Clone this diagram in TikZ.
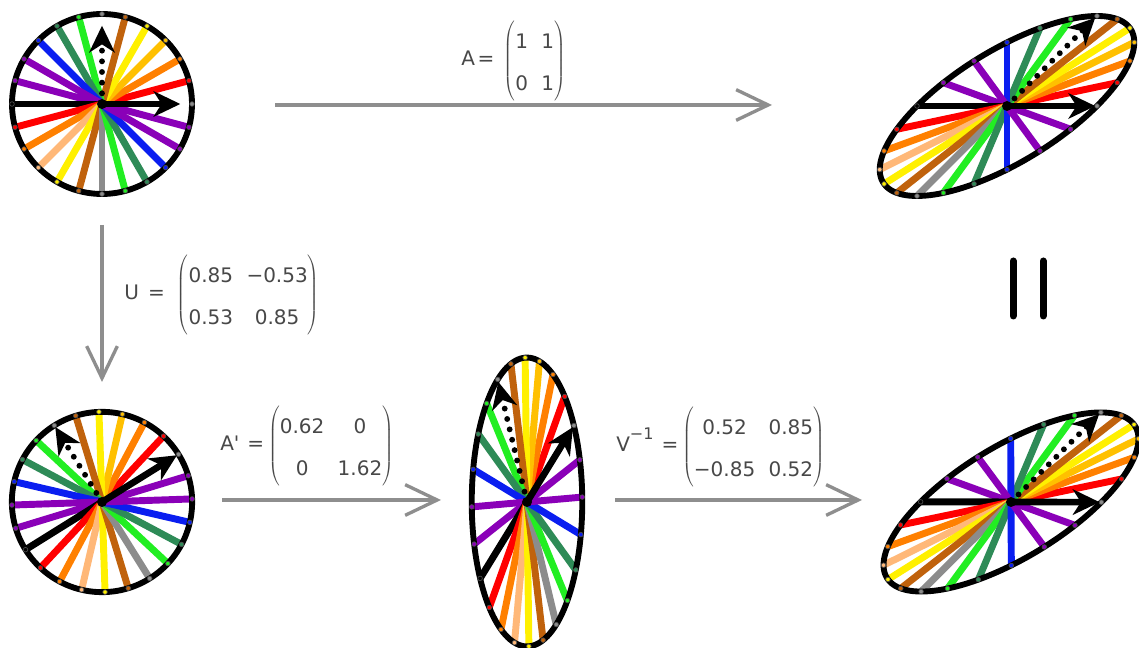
\documentclass[tikz,border=0pt]{standalone}
\usepackage{fontspec}
\newfontfamily\lab{DejaVu Sans}
\usetikzlibrary{arrows.meta}
\definecolor{cred}{HTML}{FF0000}
\definecolor{corange}{HTML}{FF8000}
\definecolor{cgold}{HTML}{FFC000}
\definecolor{cyellow}{HTML}{FFF000}
\definecolor{cbrown}{HTML}{C0620C}
\definecolor{cgreen}{HTML}{22EE22}
\definecolor{cdgreen}{HTML}{2E8B57}
\definecolor{cblue}{HTML}{0A1EF0}
\definecolor{cpurple}{HTML}{8A00B8}
\definecolor{cpeach}{HTML}{FFB878}
\definecolor{cgray}{HTML}{8C8C8C}
\definecolor{conncol}{HTML}{8E8E8E}
\definecolor{txt}{HTML}{484848}
\newcommand\mtx[1]{$\left(\renewcommand\arraystretch{1.75}\begin{tabular}{@{}c@{\hspace{10pt}}c@{}}#1\end{tabular}\right)$}
\newcommand\spokelist{15/cred,30/corange,45/cgold,60/cyellow,75/cbrown,105/cgreen,120/cdgreen,135/cblue,150/cpurple,165/cpurple,180/black,195/cred,210/corange,225/cpeach,240/cyellow,255/cbrown,270/cgray,285/cgreen,300/cdgreen,315/cblue,330/cpurple,345/cpurple}
\newcommand\dotlist{0/cgray,90/cgray,15/cred,30/corange,45/cgold,60/cyellow,75/cbrown,105/cgreen,120/cdgreen,135/cblue,150/cpurple,165/cpurple,180/black,195/cred,210/corange,225/cpeach,240/cyellow,255/cbrown,270/cgray,285/cgreen,300/cdgreen,315/cblue,330/cpurple,345/cpurple}
\newcommand\svdfig[7]{%
\begin{scope}[shift={(#1)}]
 \foreach \a/\c in \spokelist {%
   \draw[spoke,draw=\c] (0,0) -- ({#2*((#3)*cos(\a)+(#4)*sin(\a))},{#2*((#5)*cos(\a)+(#6)*sin(\a))});
 }
 \draw[rim] plot[domain=0:360,samples=145] ({#2*((#3)*cos(\x)+(#4)*sin(\x))},{#2*((#5)*cos(\x)+(#6)*sin(\x))}) -- cycle;
 \foreach \a/\c in \dotlist {%
   \fill[\c, draw=black!70, line width=0.5pt] ({#2*((#3)*cos(\a)+(#4)*sin(\a))},{#2*((#5)*cos(\a)+(#6)*sin(\a))}) circle[radius=2.3];
 }
 \draw[vec] (0,0) -- ({#7*#2*(#3)},{#7*#2*(#5)});
 \draw[dvec] (0,0) -- ({#7*#2*(#4)},{#7*#2*(#6)});
 \fill (0,0) circle[radius=5];
\end{scope}}
\tikzset{
  spoke/.style={line width=5.2pt},
  rim/.style={draw=black, line width=4.4pt, line join=round},
  vec/.style={draw=black, line width=5pt, -{Stealth[length=20pt,width=19pt,inset=6pt]}},
  dvec/.style={draw=black, line width=4.4pt, line cap=round, dash pattern=on 0pt off 8pt, -{Stealth[length=20pt,width=19pt,inset=6pt]}},
  conn/.style={draw=conncol, line width=2.5pt, -{Straight Barb[length=24pt,width=23pt]}},
  lbl/.style={anchor=west, inner sep=0pt, text=txt, font=\lab\fontsize{15}{18}\selectfont},
  bar/.style={line width=5.25pt, line cap=round, draw=black}
}
\begin{document}
\begin{tikzpicture}[x=0.75pt,y=0.75pt]
\useasboundingbox (0,0) rectangle (1139,648);
\fill[white] (0,0) rectangle (1139,648);
% figure centres
\coordinate (f1) at (102,544);
\coordinate (f2) at (1007,542);
\coordinate (f3) at (102,146);
\coordinate (f4) at (527,146);
\coordinate (f5) at (1011,146);
\svdfig{f1}{90}{1}{0}{0}{1}{0.87}
\svdfig{f2}{90}{1}{1}{0}{1}{0.98}
\svdfig{f3}{90}{0.85}{-0.53}{0.53}{0.85}{0.98}
\svdfig{f4}{89}{0.527}{-0.3286}{0.8586}{1.377}{0.98}
\svdfig{f5}{90}{1.004}{0.999}{-0.002}{0.995}{0.98}
% connectors
\coordinate (t0) at (275,543);
\coordinate (t1) at (772,543);
\coordinate (v0) at (102,423);
\coordinate (v1) at (102,266);
\coordinate (b0) at (222,148);
\coordinate (b1) at (441,148);
\coordinate (c0) at (615,148);
\coordinate (c1) at (862,148);
\draw[conn] (t0) -- (t1);
\draw[conn] (v0) -- (v1);
\draw[conn] (b0) -- (b1);
\draw[conn] (c0) -- (c1);
% equality bars
\coordinate (e1a) at (1013,387);
\coordinate (e1b) at (1013,332);
\coordinate (e2a) at (1043,387);
\coordinate (e2b) at (1043,332);
\draw[bar] (e1a) -- (e1b);
\draw[bar] (e2a) -- (e2b);
% labels
\node[lbl] (la) at (461,587) {A\hspace{2pt}=\hspace{7pt}\mtx{1 & 1\\ 0 & 1}};
\node[lbl] (lu) at (124,353) {U\hspace{7pt}=\hspace{9pt}\mtx{0.85 & −0.53\\ 0.53 & 0.85}};
\node[lbl] (lap) at (220,202) {A'\hspace{6pt}=\hspace{3pt}\mtx{0.62 & 0\\ 0 & 1.62}};
\node[lbl] (lv) at (616,201) {V\raisebox{9pt}{\fontsize{12}{14}\selectfont −1}\hspace{6pt}=\hspace{3pt}\mtx{0.52 & 0.85\\ −0.85 & 0.52}};
\end{tikzpicture}
\end{document}
